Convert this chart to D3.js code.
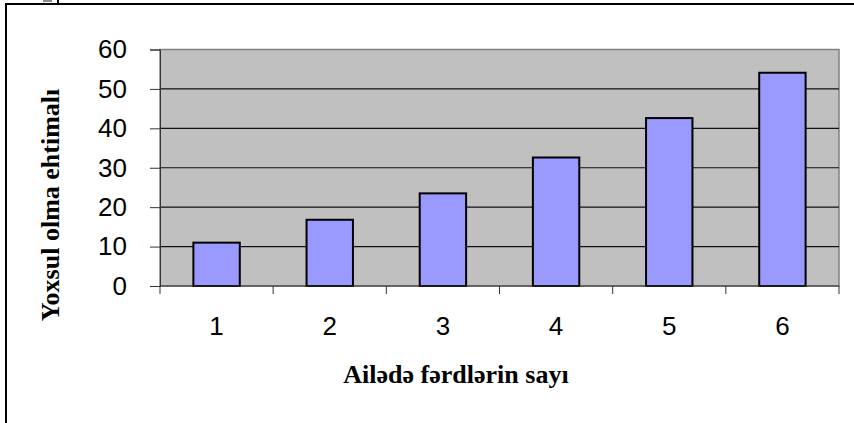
<!DOCTYPE html>
<html>
<head>
<meta charset="utf-8">
<script src="https://cdn.jsdelivr.net/npm/d3@7"></script>
<style>
  body { margin: 0; background: #fff; }
  svg { display: block; }
</style>
</head>
<body>
<div id="container"></div>
<script>
/* CONSTANTS AND GLOBALS */
const width = 854,
  height = 423,
  margin = { top: 49.5, bottom: 137, left: 160, right: 15 }

/* DATA */
const categories = ["1", "2", "3", "4", "5", "6"]
const values = [11.0, 16.8, 23.5, 32.6, 42.6, 54.1]
const yTicks = [0, 10, 20, 30, 40, 50, 60]
const xTitle = "Ailədə fərdlərin sayı"
const yTitle = "Yoxsul olma ehtimalı"

const svg = d3.select("#container")
  .append("svg")
  .attr("width", width)
  .attr("height", height)

//scales
const xScale = d3.scaleBand()
  .domain(categories)
  .range([margin.left, width - margin.right])
  .paddingInner(0.59)
  .paddingOuter(0.295)

const yScale = d3.scaleLinear()
  .domain([0, 60])
  .range([height - margin.bottom, margin.top])

const x0 = margin.left, x1 = width - margin.right
const y0 = height - margin.bottom, y1 = margin.top

// outer frame (top + left)
svg.append("path")
  .attr("d", `M6,423 V4 H854`)
  .attr("fill", "none")
  .attr("stroke", "black")
  .attr("stroke-width", 2)
svg.append("line")
  .attr("x1", 58).attr("x2", 58).attr("y1", 0).attr("y2", 5)
  .attr("stroke", "black").attr("stroke-width", 2)
svg.append("line")
  .attr("x1", 43).attr("x2", 52).attr("y1", 1).attr("y2", 1)
  .attr("stroke", "#888").attr("stroke-width", 2)

// plot area
svg.append("rect")
  .attr("x", x0).attr("y", y1)
  .attr("width", x1 - x0).attr("height", y0 - y1)
  .attr("fill", "#c0c0c0")
  .attr("stroke", "#808080")
  .attr("stroke-width", 1.5)

// gridlines
svg.selectAll(".grid")
  .data(yTicks.filter(d => d > 0 && d < 60))
  .join("line")
  .attr("class", "grid")
  .attr("x1", x0).attr("x2", x1)
  .attr("y1", d => yScale(d)).attr("y2", d => yScale(d))
  .attr("stroke", "#111")
  .attr("stroke-width", 1.2)

// bars
svg.selectAll(".bar")
  .data(values)
  .join("rect")
  .attr("class", "bar")
  .attr("x", (d, i) => xScale(categories[i]))
  .attr("y", d => yScale(d))
  .attr("width", xScale.bandwidth())
  .attr("height", d => yScale(0) - yScale(d))
  .attr("fill", "#9999ff")
  .attr("stroke", "black")
  .attr("stroke-width", 2)

//y-axis
const yAxis = d3.axisLeft(yScale)
  .tickValues(yTicks)
  .tickSize(10)
  .tickPadding(23)

svg.append("g")
  .attr("class", "y-axis")
  .attr("transform", `translate(${x0},0)`)
  .call(yAxis)
  .call(g => g.selectAll("path, line").attr("stroke", "#333"))
  .call(g => g.selectAll("text")
    .attr("font-family", "Liberation Sans, Arial, sans-serif")
    .attr("font-size", 26)
    .attr("fill", "black"))

//x-axis: ticks sit between categories
svg.append("g")
  .attr("class", "x-axis")
  .attr("transform", `translate(0,${y0})`)
  .call(g => g.append("line")
    .attr("x1", x0).attr("x2", x1)
    .attr("stroke", "#333").attr("stroke-width", 1.2))
  .call(g => g.selectAll(".xt")
    .data(d3.range(categories.length + 1))
    .join("line")
    .attr("class", "xt")
    .attr("x1", i => x0 + i * xScale.step())
    .attr("x2", i => x0 + i * xScale.step())
    .attr("y1", 0).attr("y2", 8)
    .attr("stroke", "#333"))
  .call(g => g.selectAll(".xl")
    .data(categories)
    .join("text")
    .attr("class", "xl")
    .attr("x", d => xScale(d) + xScale.bandwidth() / 2)
    .attr("y", 49)
    .attr("text-anchor", "middle")
    .attr("font-family", "Liberation Sans, Arial, sans-serif")
    .attr("font-size", 26)
    .text(d => d))

// axis titles
svg.append("text")
  .attr("class", "xAxisLabel")
  .attr("x", 456)
  .attr("y", 383)
  .attr("text-anchor", "middle")
  .attr("font-family", "Liberation Serif, Times New Roman, serif")
  .attr("font-weight", "bold")
  .attr("font-size", 26)
  .text(xTitle)

svg.append("text")
  .attr("class", "yAxisLabel")
  .attr("transform", "translate(59,205) rotate(-90)")
  .attr("text-anchor", "middle")
  .attr("font-family", "Liberation Serif, Times New Roman, serif")
  .attr("font-weight", "bold")
  .attr("font-size", 26)
  .text(yTitle)
</script>
</body>
</html>
